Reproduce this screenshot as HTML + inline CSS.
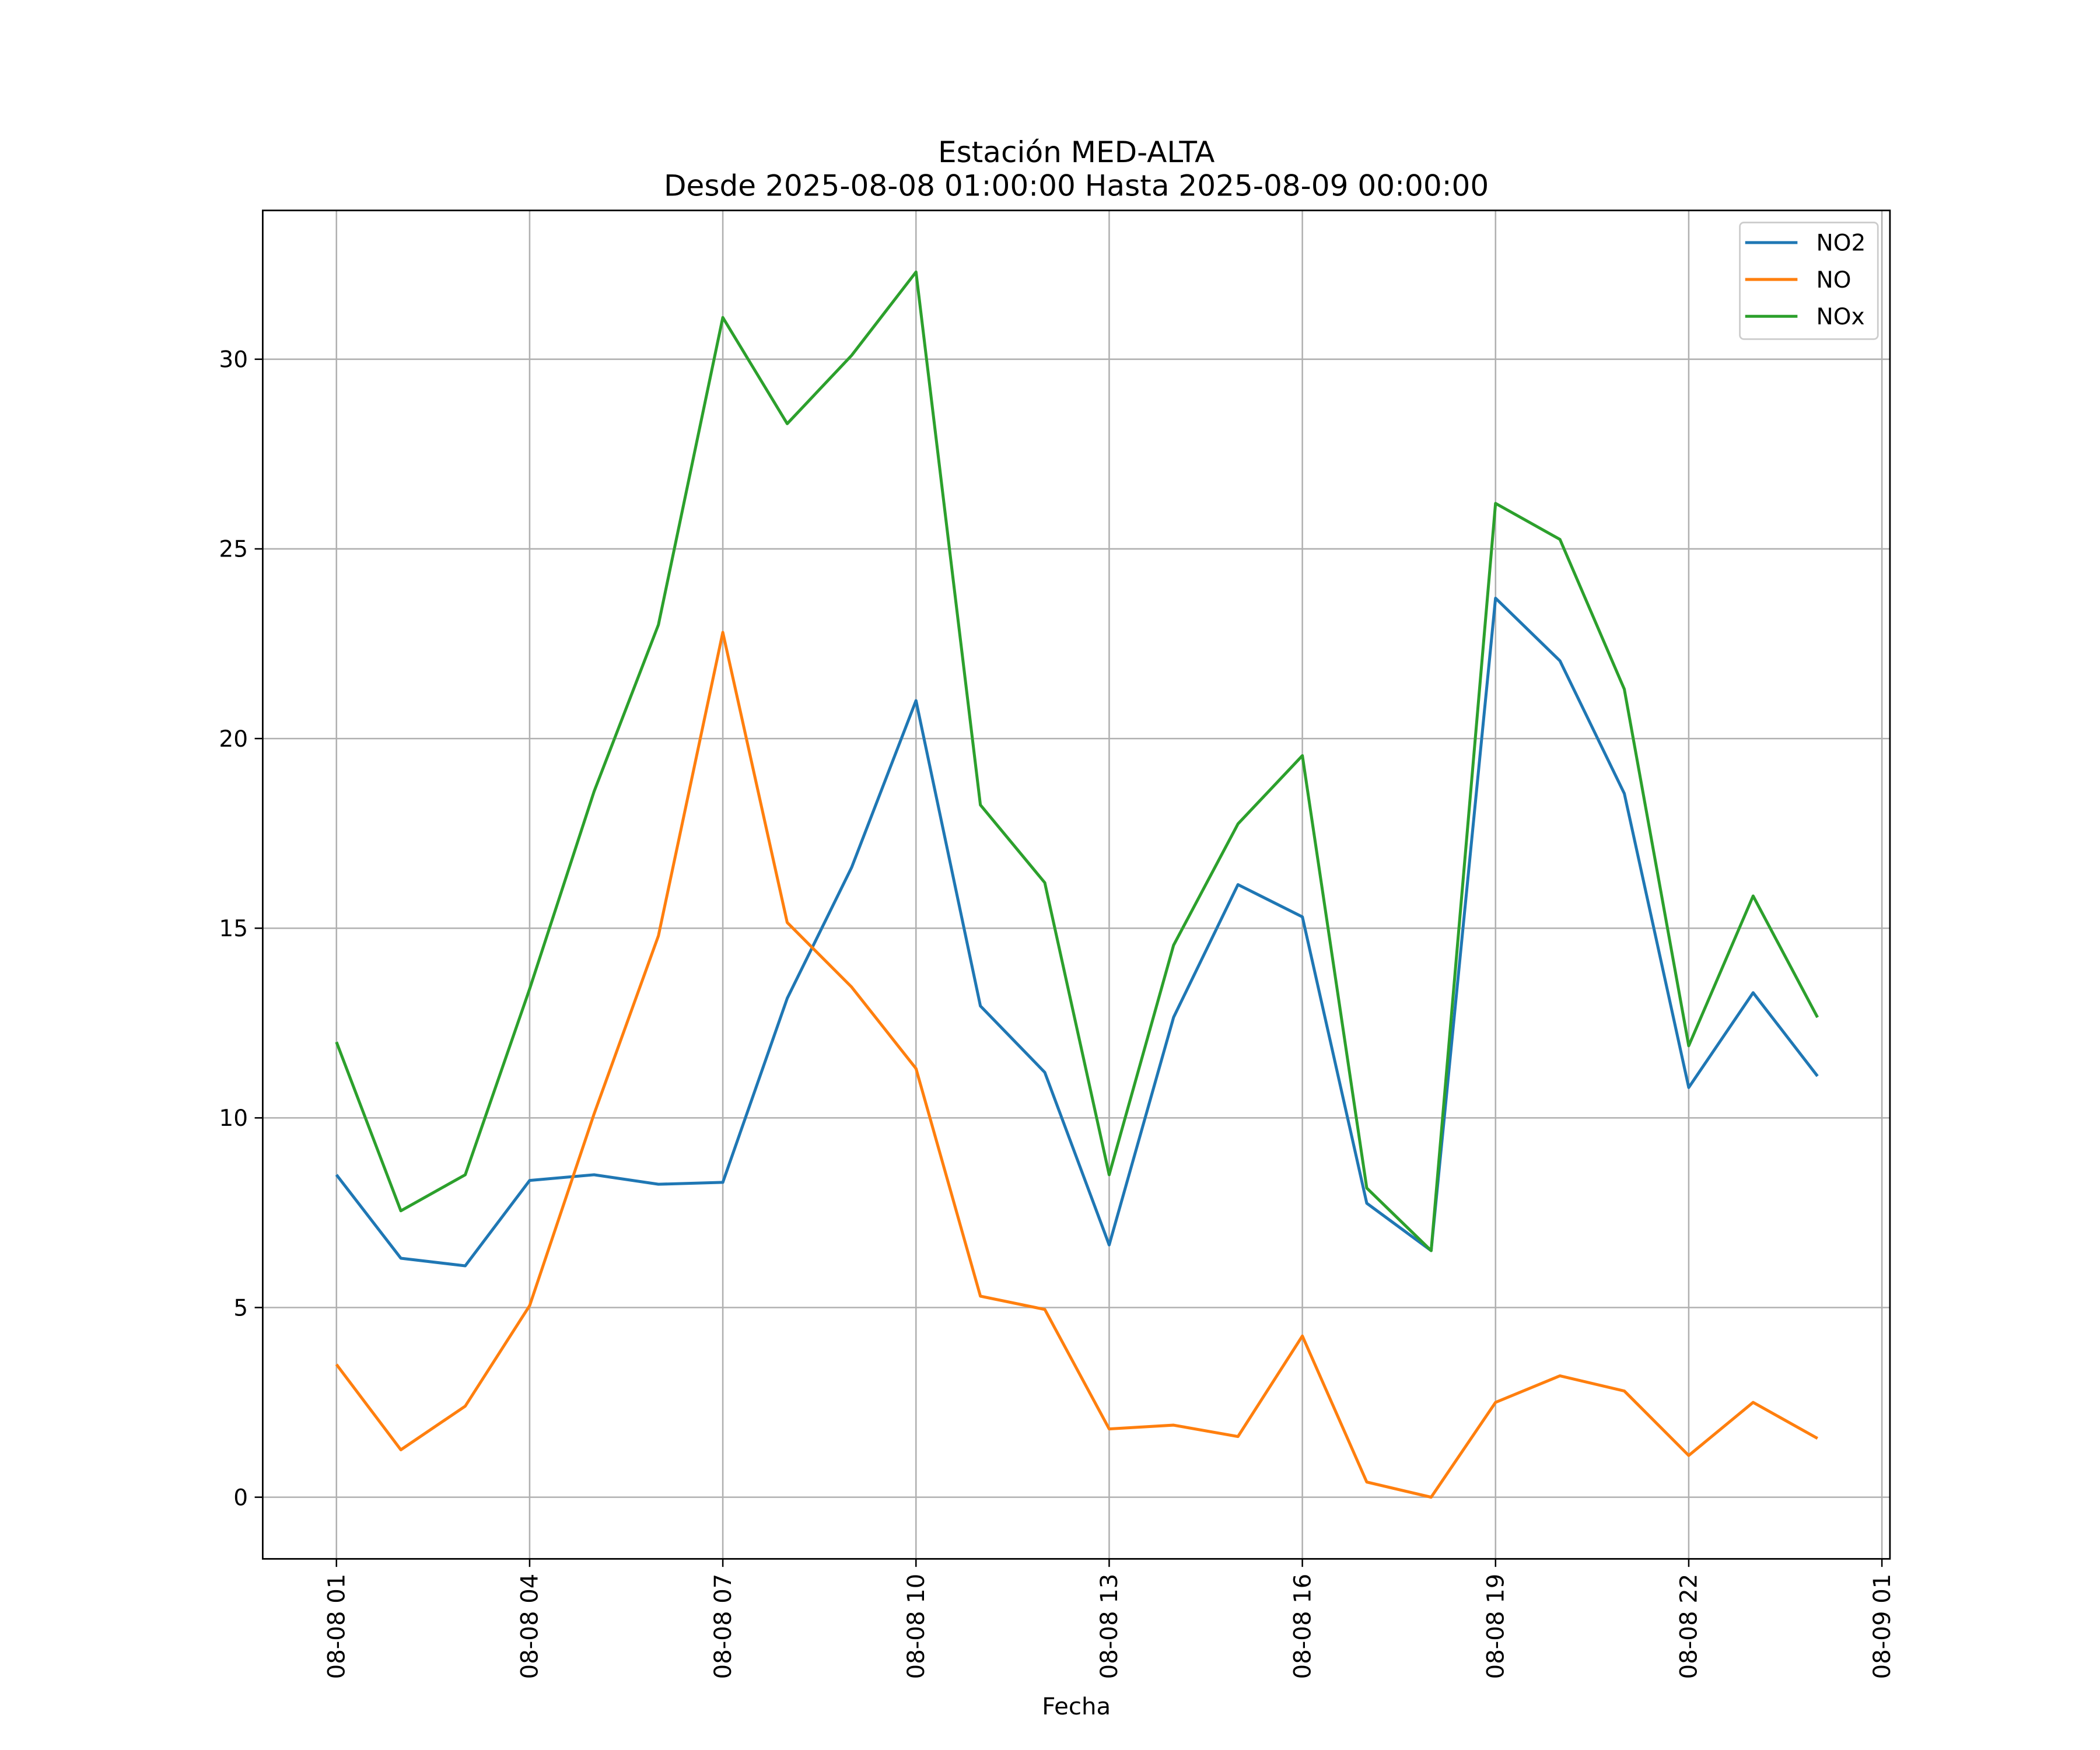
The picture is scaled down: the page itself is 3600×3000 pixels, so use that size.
<!DOCTYPE html>
<html><head><meta charset="utf-8"><style>
html,body{margin:0;padding:0;background:#fff;}
svg{display:block;font-family:"DejaVu Sans","Liberation Sans",sans-serif;}
</style></head><body>
<svg id="chart" width="3600" height="3000" viewBox="0 0 1566.7 1305.6" xmlns="http://www.w3.org/2000/svg">
<rect width="1570" height="1310" fill="#fff"/>
<text x="803" y="121" font-size="21.8" text-anchor="middle">Estación MED-ALTA</text>
<text x="803" y="146" font-size="21.8" text-anchor="middle">Desde 2025-08-08 01:00:00 Hasta 2025-08-09 00:00:00</text>
<g id="grid"></g>
<g id="series"></g>
<rect x="196" y="157" width="1214" height="1006" fill="none" stroke="#000" stroke-width="1.2"/>
<g id="ticks"></g>
<text x="803" y="1279" font-size="17.5" text-anchor="middle">Fecha</text>
<g>
<rect x="1298" y="166" width="103" height="87" fill="#fff" stroke="#ccc" stroke-width="1.2" rx="3"/>
<line x1="1302" y1="181" x2="1341" y2="181" stroke="#1f77b4" stroke-width="2.2"/>
<text x="1355" y="187" font-size="17">NO2</text>
<line x1="1302" y1="208.5" x2="1341" y2="208.5" stroke="#ff7f0e" stroke-width="2.2"/>
<text x="1355" y="214.5" font-size="17">NO</text>
<line x1="1302" y1="236" x2="1341" y2="236" stroke="#2ca02c" stroke-width="2.2"/>
<text x="1355" y="242" font-size="17">NOx</text>
</g>
</svg>
<script>
const hours = [1,2,3,4,5,6,7,8,9,10,11,12,13,14,15,16,17,18,19,20,21,22,23,24];
const no2 = [8.5,6.3,6.1,8.35,8.5,8.25,8.3,13.15,16.6,21.0,12.95,11.2,6.65,12.65,16.15,15.3,7.75,6.5,23.7,22.05,18.55,10.8,13.3,11.1];
const no = [3.5,1.25,2.4,5.05,10.1,14.8,22.8,15.15,13.45,11.3,5.3,4.95,1.8,1.9,1.6,4.25,0.4,0.0,2.5,3.2,2.8,1.1,2.5,1.55];
const nox = [12.0,7.55,8.5,13.4,18.6,23.0,31.1,28.3,30.1,32.3,18.25,16.2,8.5,14.55,17.75,19.55,8.15,6.5,26.2,25.25,21.3,11.9,15.85,12.65];
const yTicks = [0,5,10,15,20,25,30];
const xTickHours = [1,4,7,10,13,16,19,22,25];
const xTickLabels = ["08-08 01","08-08 04","08-08 07","08-08 10","08-08 13","08-08 16","08-08 19","08-08 22","08-09 01"];

const NS = "http://www.w3.org/2000/svg";
function xs(h){ return 251 + (h-1)*(1404-251)/24; }
function ys(v){ return 1117 - v*(1117-268)/30; }
function mk(tag, attrs, parent){ const e=document.createElementNS(NS,tag); for(const k in attrs) e.setAttribute(k,attrs[k]); parent.appendChild(e); return e; }
const grid=document.getElementById('grid'), ticks=document.getElementById('ticks'), series=document.getElementById('series');
yTicks.forEach(v=>{
  const y=ys(v);
  const g=mk('line',{x1:196,x2:1410,y1:y,y2:y,stroke:'#b0b0b0','stroke-width':1.1},grid);
  
  
  mk('line',{x1:190,x2:196,y1:y,y2:y,stroke:'#000','stroke-width':1.1},ticks);
  const t=mk('text',{x:185,y:y+6,'font-size':17,'text-anchor':'end'},ticks);
  t.textContent=v;
  
  
});
xTickHours.forEach((h,i)=>{
  const x=xs(h);
  const g=mk('line',{x1:x,x2:x,y1:157,y2:1163,stroke:'#b0b0b0','stroke-width':1.1},grid);
  
  
  mk('line',{x1:x,x2:x,y1:1163,y2:1169,stroke:'#000','stroke-width':1.1},ticks);
  const t=mk('text',{x:0,y:0,'font-size':17.5,'text-anchor':'end',transform:`translate(${x+6},1174) rotate(-90)`},ticks);
  t.textContent=xTickLabels[i];
  
  
});
[[no2,'#1f77b4','line-no2'],[no,'#ff7f0e','line-no'],[nox,'#2ca02c','line-nox']].forEach(([d,c,n])=>{
  const pts=d.map((v,i)=>xs(hours[i]).toFixed(2)+','+ys(v).toFixed(2)).join(' ');
  const p=mk('polyline',{points:pts,fill:'none',stroke:c,'stroke-width':2.2,'stroke-linejoin':'round'},series);
  
  
});
</script>
</body></html>
